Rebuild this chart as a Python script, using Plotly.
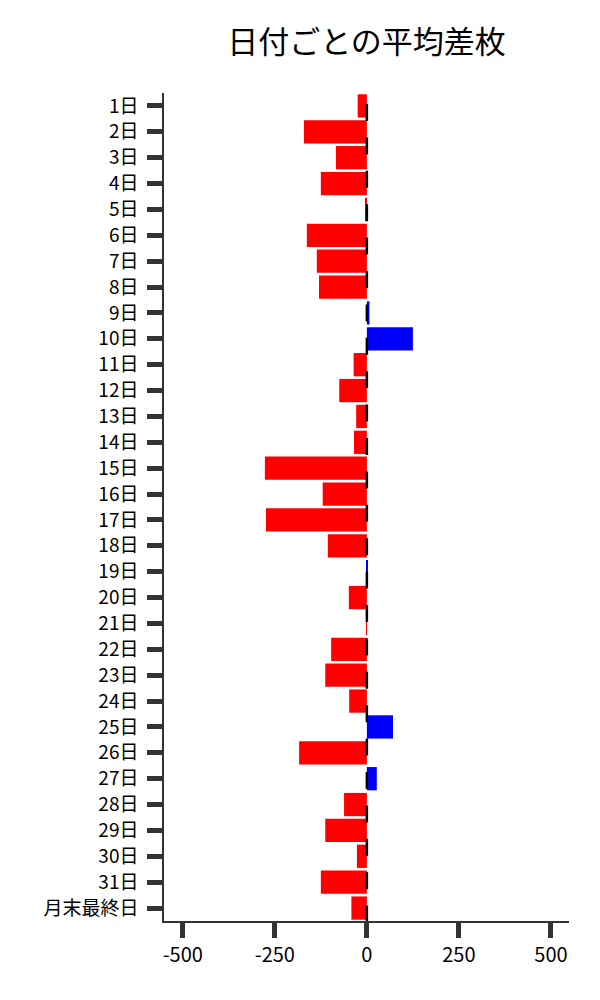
import plotly.graph_objects as go

# 日付ごとの平均差枚
days = [f"{d}日" for d in range(1, 32)] + ["月末最終日"]
avg_diff = [-25, -171, -84, -125, -5, -163, -136, -130, 7, 125,
            -36, -75, -29, -35, -277, -120, -274, -106, 3, -49,
            -2, -97, -113, -48, 71, -184, 27, -62, -113, -27,
            -125, -42]

colors = ["#0000ff" if v > 0 else "#ff0000" for v in avg_diff]
font = "Noto Sans CJK JP"

fig = go.Figure()
fig.add_trace(go.Bar(
    x=avg_diff, y=days, orientation="h",
    marker=dict(color=colors, line=dict(width=0)),
    showlegend=False,
))

# 0 の破線
fig.add_shape(type="line", xref="x", yref="y domain",
              x0=0, x1=0, y0=1, y1=0,
              line=dict(color="black", width=2.5, dash="0px,11px,17px,5.4px"))

fig.update_layout(
    width=600, height=1000,
    margin=dict(l=164, r=31, t=93, b=79),
    plot_bgcolor="white", paper_bgcolor="white",
    bargap=0.1,
    font=dict(family=font, size=20, color="black"),
    title=dict(text="日付ごとの平均差枚", x=0.5, xref="paper",
               y=1 - 42 / 1000, yanchor="middle",
               font=dict(family=font, size=31, color="black")),
)
fig.update_xaxes(
    range=[-551, 549], tickvals=[-500, -250, 0, 250, 500],
    ticktext=["-500", "-250", "0", "250", "500"],
    ticks="outside", ticklen=15, tickwidth=5, tickcolor="#333",
    showline=True, linecolor="#333", linewidth=1.5,
    showgrid=False, zeroline=False,
)
fig.update_yaxes(
    autorange=False, range=[31.5, -0.5],
    ticks="outside", ticklen=15, tickwidth=5, tickcolor="#333",
    ticklabelstandoff=5, tickfont=dict(size=19),
    showline=True, linecolor="#333", linewidth=1.5,
    showgrid=False, zeroline=False,
)

# ページ余白をなくす
fig.write_html("out.html", config={"displayModeBar": False},
               post_script="document.body.style.margin='0';")
